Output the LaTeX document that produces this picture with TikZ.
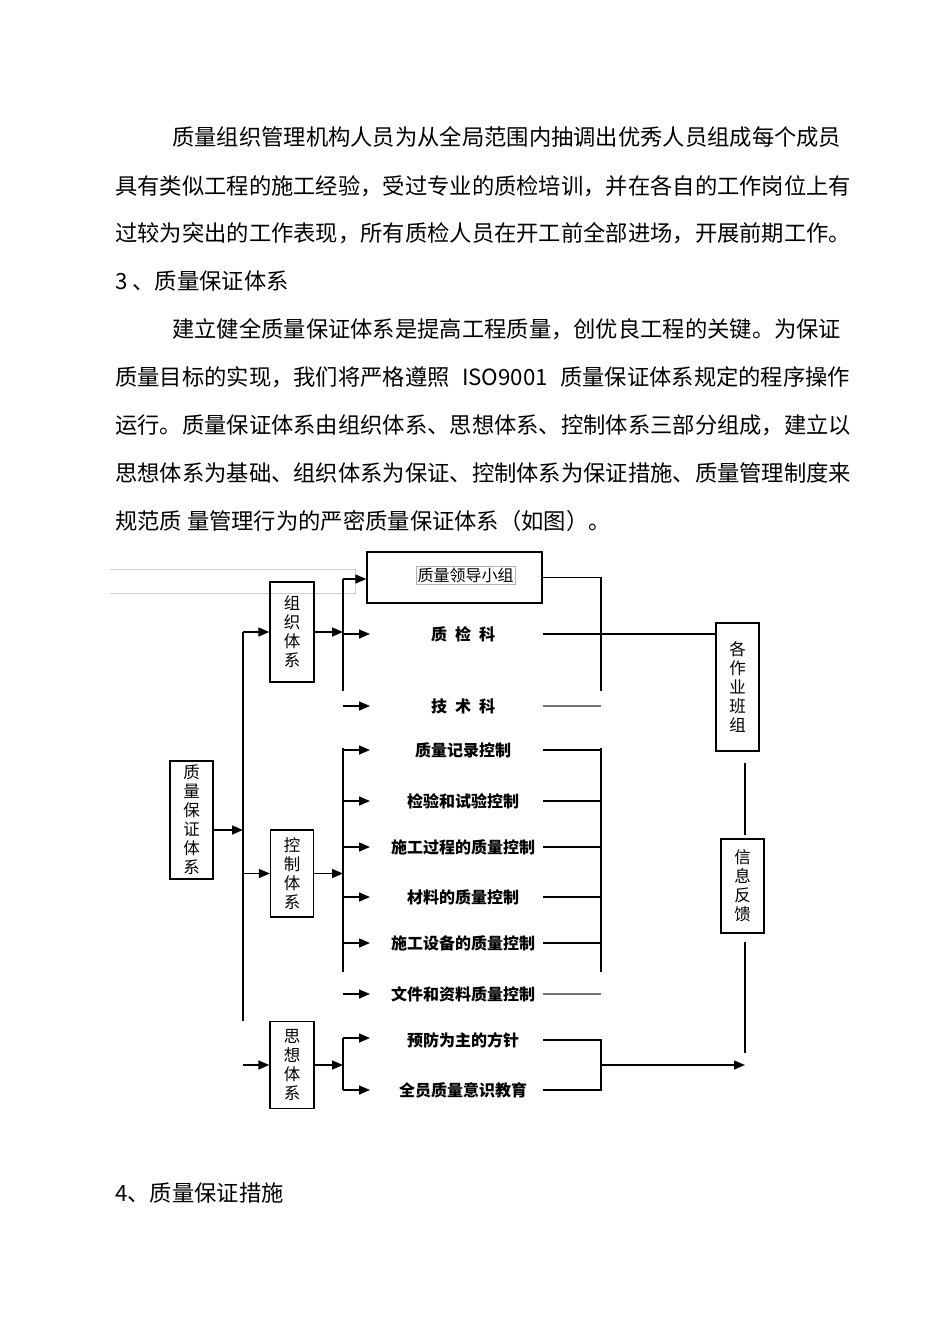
\documentclass[tikz,border=0pt]{standalone}
\usepackage{fontspec}
\setmainfont{Noto Sans CJK SC}
\usetikzlibrary{arrows.meta,calc}

\tikzset{
  sysbox/.style={draw, line width=1.3pt, inner sep=0pt, align=center,
    font=\fontsize{16.5}{19}\selectfont},
  rowlab/.style={minimum width=160pt, minimum height=20pt, inner sep=0pt,
    font=\fontsize{16}{18}\selectfont\bfseries},
  para/.style={anchor=west, inner sep=0pt, font=\fontsize{22.3}{26}\selectfont},
  arr/.style={line width=1.5pt, -{Triangle[length=11pt,width=9pt]}},
  link/.style={line width=1.4pt},
  faint/.style={line width=1.4pt, draw=black!55},
}

\begin{document}
\begin{tikzpicture}[x=1pt,y=-1pt]
  \useasboundingbox (0,0) rectangle (950,1344);
  \fill[white] (0,0) rectangle (950,1344);

  % running text
  \node[para] (p1) at (172,137) {质量组织管理机构人员为从全局范围内抽调出优秀人员组成每个成员};
  \node[para] (p2) at (115,186) {具有类似工程的施工经验，受过专业的质检培训，并在各自的工作岗位上有};
  \node[para] (p3) at (115,233) {过较为突出的工作表现，所有质检人员在开工前全部进场，开展前期工作。};
  \node[para] (h3) at (115,281) {3 、质量保证体系};
  \node[para] (p4) at (172,329) {建立健全质量保证体系是提高工程质量，创优良工程的关键。为保证};
  \node[para] (p5) at (115,377) {\makebox[735pt][s]{质量目标的实现，我们将严格遵照 ISO9001 质量保证体系规定的程序操作}};
  \node[para] (p6) at (115,425) {运行。质量保证体系由组织体系、思想体系、控制体系三部分组成，建立以};
  \node[para] (p7) at (115,473) {思想体系为基础、组织体系为保证、控制体系为保证措施、质量管理制度来};
  \node[para] (p8) at (115,521) {规范质 量管理行为的严密质量保证体系（如图）。};
  \node[para] (h4) at (115,1193) {4、质量保证措施};

  % leftover frame
  \draw[black!20, line width=0.8pt] (110,569) -- (355,569) -- (355,593) -- (110,593);

  % boxes
  \node[sysbox, minimum width=43pt, minimum height=118pt] (bz) at (191.5,820) {质\\量\\保\\证\\体\\系};
  \node[sysbox, minimum width=44pt, minimum height=100pt] (zz) at (292,632) {组\\织\\体\\系};
  \node[sysbox, minimum width=43pt, minimum height=87pt] (kz) at (292,873.5) {控\\制\\体\\系};
  \node[sysbox, minimum width=44pt, minimum height=87pt] (sx) at (292,1065) {思\\想\\体\\系};
  \node[sysbox, minimum width=43pt, minimum height=128pt] (bzu) at (737.5,687) {各\\作\\业\\班\\组};
  \node[sysbox, minimum width=43pt, minimum height=94pt] (fk) at (742.5,886) {信\\息\\反\\馈};

  \node[draw, line width=1.3pt, minimum width=175pt, minimum height=51pt] (lead) at (454.5,577.5) {};
  \node[draw=black!30, line width=0.6pt, inner sep=1.5pt,
    font=\fontsize{16}{18}\selectfont] (leadtxt) at (465.5,575.5) {质量领导小组};

  % row labels
  \node[rowlab] (zjk) at (463,634) {质\hspace{8pt}检\hspace{8pt}科};
  \node[rowlab] (jsk) at (463,706) {技\hspace{8pt}术\hspace{8pt}科};
  \node[rowlab] (k1) at (463,750) {质量记录控制};
  \node[rowlab] (k2) at (463,801) {检验和试验控制};
  \node[rowlab] (k3) at (463,847) {施工过程的质量控制};
  \node[rowlab] (k4) at (463,897) {材料的质量控制};
  \node[rowlab] (k5) at (463,943) {施工设备的质量控制};
  \node[rowlab] (k6) at (463,994) {文件和资料质量控制};
  \node[rowlab] (s1) at (463,1040) {预防为主的方针};
  \node[rowlab] (s2) at (463,1090) {全员质量意识教育};

  % trunk
  \coordinate (tr) at (243,0);
  \coordinate (trend) at (243,1021);
  \coordinate (bzout) at ([yshift=-10pt]bz.east);
  \draw[link] (tr |- zz.west) -- (trend);
  \draw[arr] (tr |- zz.west) -- (zz.west);
  \draw[arr] (bzout) -- (tr |- bzout);
  \draw[arr] (tr |- kz.west) -- (kz.west);
  \draw[arr] (tr |- sx.west) -- (sx.west);

  % organisation
  \coordinate (ob) at (343,579);
  \coordinate (obe) at (343,691);
  \coordinate (orb) at (601,579);
  \draw[link] (ob) -- (obe);
  \draw[arr] (zz.east) -- (ob |- zz.east);
  \draw[arr] (ob) -- (ob -| lead.west);
  \draw[arr] (ob |- zjk) -- ++(27,0);
  \draw[arr] (ob |- jsk) -- ++(27,0);
  \draw[link] (lead.east) -- (lead.east -| orb) -- (orb |- obe);
  \draw[link] (zjk.east) -- (zjk.east -| bzu.west);
  \draw[faint] (jsk.east) -- (jsk.east -| orb);

  % control
  \coordinate (cb) at (343,748);
  \coordinate (cbe) at (343,972);
  \coordinate (crb) at (601,748);
  \draw[link] (cb) -- (cbe);
  \draw[link] (crb) -- (crb |- cbe);
  \draw[arr] (kz.east) -- (cb |- kz.east);
  \foreach \r in {k1,k2,k3,k4,k5,k6}
    \draw[arr] (cb |- \r) -- ++(27,0);
  \foreach \r in {k1,k2,k3,k4,k5}
    \draw[link] (\r.east) -- (\r.east -| crb);
  \draw[faint] (k6.east) -- (k6.east -| crb);

  % thought
  \coordinate (sb) at (343,1038);
  \coordinate (fbx) at (745,1053);
  \draw[link] (sb) -- (sb |- s2);
  \draw[arr] (sx.east) -- (sb |- sx.east);
  \draw[arr] (sb) -- ++(27,0);
  \draw[arr] (sb |- s2) -- ++(27,0);
  \draw[link] (s1.east) -- (s1.east -| crb) -- (crb |- s2.east) -- (s2.east);
  \draw[arr] (crb |- sx.east) -- (fbx |- sx.east);

  % feedback
  \draw[link] ([yshift=-11pt]bzu.south -| fbx) -- ([yshift=3pt]fk.north -| fbx);
  \draw[link] ([yshift=-8pt]fk.south -| fbx) -- (fbx);
\end{tikzpicture}
\end{document}
